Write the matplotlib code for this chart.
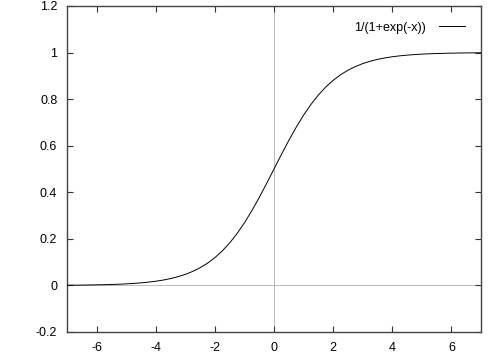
import matplotlib
matplotlib.use("Agg")
import matplotlib.pyplot as plt

x_vals = [-7, -6.75, -6.5, -6.25, -6, -5.75, -5.5, -5.25, -5, -4.75, -4.5, -4.25,
          -4, -3.75, -3.5, -3.25, -3, -2.75, -2.5, -2.25, -2, -1.75, -1.5, -1.25,
          -1, -0.75, -0.5, -0.25, 0, 0.25, 0.5, 0.75, 1, 1.25, 1.5, 1.75, 2, 2.25,
          2.5, 2.75, 3, 3.25, 3.5, 3.75, 4, 4.25, 4.5, 4.75, 5, 5.25, 5.5, 5.75,
          6, 6.25, 6.5, 6.75, 7]
y_vals = [0.0009, 0.0012, 0.0015, 0.0019, 0.0025, 0.0032, 0.0041, 0.0052, 0.0067,
          0.0086, 0.0110, 0.0141, 0.0180, 0.0230, 0.0293, 0.0373, 0.0474, 0.0601,
          0.0759, 0.0953, 0.1192, 0.1480, 0.1824, 0.2227, 0.2689, 0.3208, 0.3775,
          0.4378, 0.5, 0.5622, 0.6225, 0.6792, 0.7311, 0.7773, 0.8176, 0.8520,
          0.8808, 0.9047, 0.9241, 0.9399, 0.9526, 0.9627, 0.9707, 0.9770, 0.9820,
          0.9859, 0.9890, 0.9914, 0.9933, 0.9948, 0.9959, 0.9968, 0.9975, 0.9981,
          0.9985, 0.9988, 0.9991]
x_ticks = [-6, -4, -2, 0, 2, 4, 6]
y_ticks = [-0.2, 0, 0.2, 0.4, 0.6, 0.8, 1, 1.2]
y_labels = ["-0.2", "0", "0.2", "0.4", "0.6", "0.8", "1", "1.2"]
label = "1/(1+exp(-x))"

plt.rcParams['font.family'] = ['Liberation Sans', 'DejaVu Sans']
fig = plt.figure(figsize=(5.04, 3.53), dpi=100)
ax = fig.add_axes([67/504, 1 - 332/353, (481-67)/504, (332-6)/353])
ax.axhline(0, color='#b0b0b0', lw=0.6, zorder=1)
ax.axvline(0, color='#b0b0b0', lw=0.6, zorder=1)
ax.plot(x_vals, y_vals, color='black', lw=0.7, label=label, zorder=3)
ax.set_xlim(-7, 7)
ax.set_ylim(-0.2, 1.2)
ax.set_xticks(x_ticks)
ax.set_xticklabels([str(t) for t in x_ticks])
ax.set_yticks(y_ticks)
ax.set_yticklabels(y_labels)
ax.tick_params(direction='in', length=4, width=0.8, color='#333333',
               top=True, right=True, labelsize=9)
ax.tick_params(axis='x', pad=7)
ax.tick_params(axis='y', pad=7)
for s in ax.spines.values():
    s.set_linewidth(1.0)
    s.set_color('#444444')
leg = ax.legend(loc='upper right', frameon=False, fontsize=9, markerfirst=False,
                handlelength=2.1, handletextpad=1.1, borderaxespad=0.85,
                bbox_to_anchor=(1.0, 1.0))
fig.savefig("out.png", dpi=100)
